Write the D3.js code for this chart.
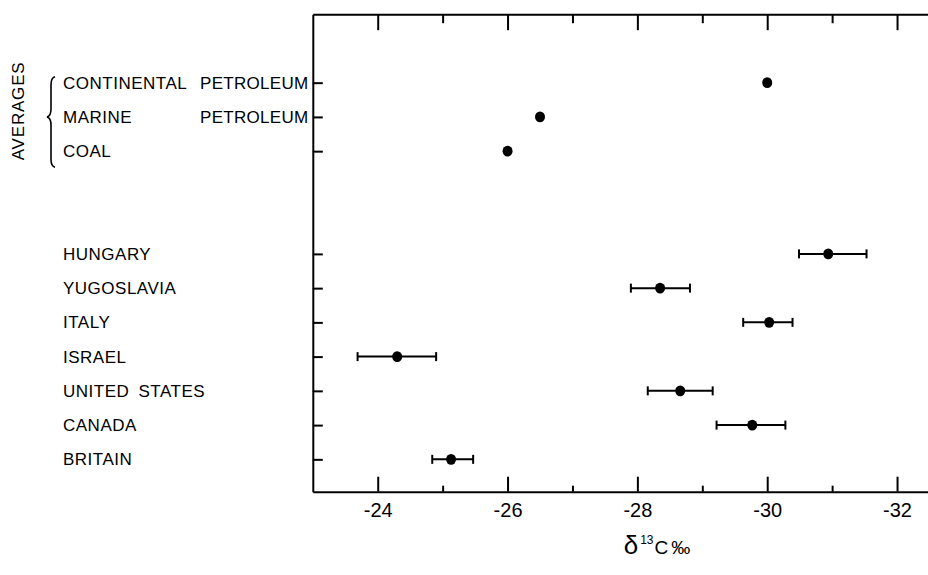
<!DOCTYPE html>
<html>
<head>
<meta charset="utf-8">
<script src="https://cdn.jsdelivr.net/npm/d3@7"></script>
<style>
  html, body { margin: 0; padding: 0; background: #fff; }
  svg { display: block; }
  text { font-family: "Liberation Sans", "DejaVu Sans", sans-serif; fill: #000; }
</style>
</head>
<body>
<svg id="chart" width="928" height="575"></svg>
<script>
// ---- data ----
const categories = ["CONTINENTAL PETROLEUM", "MARINE PETROLEUM", "COAL",
  "HUNGARY", "YUGOSLAVIA", "ITALY", "ISRAEL", "UNITED STATES", "CANADA", "BRITAIN"];
const rowSlots = [0, 1, 2, 5, 6, 7, 8, 9, 10, 11];
const meanValues = [-30.0, -26.5, -26.0, -30.94, -28.35, -30.03, -24.30, -28.66, -29.77, -25.13];
const lowValues  = [null, null, null, -30.49, -27.90, -29.63, -23.69, -28.16, -29.22, -24.84];
const highValues = [null, null, null, -31.53, -28.81, -30.39, -24.90, -29.16, -30.28, -25.47];
const majorTicks = [-24, -26, -28, -30, -32];
const minorTicks = [-25, -27, -29, -31];
const groupLabel = "AVERAGES";

// ---- layout ----
const svg = d3.select("#chart");
const x = d3.scaleLinear().domain([-23, -32.48]).range([312.8, 928.2]);
const y = d3.scaleLinear().domain([-2, 11.945]).range([14.2, 491.7]);
const yTop = y.range()[0], yBot = y.range()[1];

const axStyle = g => {
  g.selectAll("path.domain").attr("stroke", "#000").attr("stroke-width", 2);
  g.selectAll(".tick line").attr("stroke", "#000").attr("stroke-width", 2);
};

// bottom axis
svg.append("g").attr("transform", `translate(0,${yBot})`)
  .call(d3.axisBottom(x).tickValues(majorTicks).tickSizeInner(-15).tickSizeOuter(0)
    .tickPadding(11).tickFormat(d => d3.format("d")(d).replace("−", "-")))
  .call(axStyle)
  .call(g => g.selectAll(".tick text").attr("font-size", 20).attr("font-family", "Liberation Sans").attr("fill", "#000"));
svg.append("g").attr("transform", `translate(0,${yBot})`)
  .call(d3.axisBottom(x).tickValues(minorTicks).tickSizeInner(-6).tickSizeOuter(0).tickFormat(""))
  .call(axStyle).call(g => g.select("path.domain").remove());

// top axis
svg.append("g").attr("transform", `translate(0,${yTop})`)
  .call(d3.axisTop(x).tickValues(majorTicks).tickSizeInner(-16).tickSizeOuter(0).tickFormat(""))
  .call(axStyle);
svg.append("g").attr("transform", `translate(0,${yTop})`)
  .call(d3.axisTop(x).tickValues(minorTicks).tickSizeInner(-9).tickSizeOuter(0).tickFormat(""))
  .call(axStyle).call(g => g.select("path.domain").remove());

// left axis
svg.append("g").attr("transform", `translate(${x.range()[0]},0)`)
  .call(d3.axisLeft(y).tickValues(rowSlots).tickSizeInner(-10).tickSizeOuter(0).tickFormat(""))
  .call(axStyle);

// row labels
const labelX = 63, secondColX = 200;
categories.forEach((c, i) => {
  const yy = y(rowSlots[i]);
  const t = svg.append("text").attr("y", yy).attr("dy", "0.36em")
    .attr("font-size", 17).attr("letter-spacing", "0.5px");
  if (c.endsWith("PETROLEUM")) {
    const parts = c.split(" ");
    t.attr("x", labelX).text(parts[0]);
    svg.append("text").attr("x", secondColX).attr("y", yy).attr("dy", "0.36em")
      .attr("font-size", 17).attr("letter-spacing", "0.3px").text(parts[1]);
  } else {
    t.attr("x", labelX).attr("word-spacing", "4px").text(c);
  }
});

// group label and brace
const gy0 = y(rowSlots[0]), gy2 = y(rowSlots[2]);
const gMid = (gy0 + gy2) / 2;
svg.append("text")
  .attr("transform", `translate(24,${gMid - 6}) rotate(-90)`)
  .attr("text-anchor", "middle").attr("font-size", 17).attr("letter-spacing", "0.8px")
  .text(groupLabel);
const bt = gy0 - 6, bb = gy2 + 16, bx = 52, bw = 5;
svg.append("path")
  .attr("d", `M${bx + 3},${bt} Q${bx - 1},${bt + 1} ${bx - 1},${bt + 8} L${bx - 1},${gMid - 8}
              Q${bx - 1},${gMid - 1} ${bx - bw},${gMid}
              Q${bx - 1},${gMid + 1} ${bx - 1},${gMid + 8} L${bx - 1},${bb - 8}
              Q${bx - 1},${bb - 1} ${bx + 3},${bb}`)
  .attr("fill", "none").attr("stroke", "#000").attr("stroke-width", 1.6);

// error bars
const capH = 4.5;
const eb = svg.append("g").attr("stroke", "#000").attr("stroke-width", 2);
categories.forEach((c, i) => {
  if (lowValues[i] == null) return;
  const yy = y(rowSlots[i]);
  eb.append("line").attr("x1", x(lowValues[i])).attr("x2", x(highValues[i])).attr("y1", yy).attr("y2", yy);
  [lowValues[i], highValues[i]].forEach(v => {
    eb.append("line").attr("x1", x(v)).attr("x2", x(v)).attr("y1", yy - capH).attr("y2", yy + capH);
  });
});

// points
svg.append("g").selectAll("ellipse").data(meanValues).join("ellipse")
  .attr("cx", d => x(d)).attr("cy", (d, i) => y(rowSlots[i]))
  .attr("rx", 5).attr("ry", 5.4).attr("fill", "#000");

// x-axis title
const title = svg.append("text").attr("x", 657).attr("y", 554).attr("text-anchor", "middle");
title.append("tspan").attr("font-size", 26).text("δ");
title.append("tspan").attr("font-size", 12).attr("dy", -10).attr("dx", 2).text("13");
title.append("tspan").attr("font-size", 19).attr("dy", 10).attr("dx", 1).text("C");
title.append("tspan").attr("font-size", 19).attr("dx", 3).text("‰");
</script>
</body>
</html>
